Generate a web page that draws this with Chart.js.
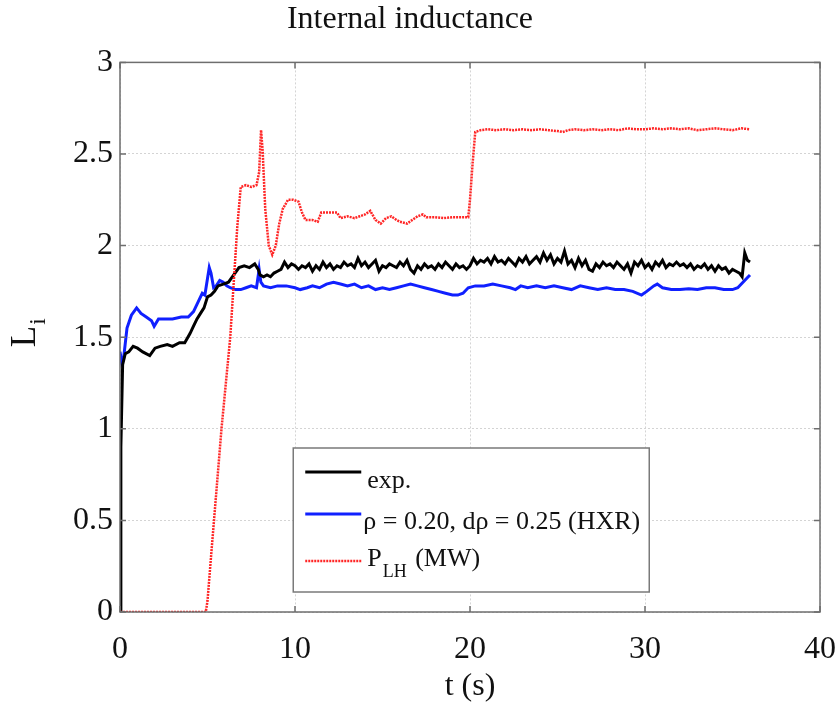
<!DOCTYPE html>
<html>
<head>
<meta charset="utf-8">
<script src="https://cdn.jsdelivr.net/npm/chart.js@4.4.1/dist/chart.umd.min.js"></script>
<style>
  html, body { margin: 0; padding: 0; background: #fff; }
  #wrap { width: 837px; height: 706px; }
</style>
</head>
<body>
<div id="wrap"><canvas id="chart" width="837" height="706"></canvas></div>
<script>
// experimental internal inductance (black)
const tExp = [0, 0.05, 0.15, 0.3, 0.5, 0.75, 1.0, 1.3, 1.7, 2.0, 2.3, 2.7, 3.0, 3.4, 3.7, 4.0, 4.2, 4.4, 4.6, 4.8,
  5.0, 5.2, 5.4, 5.6, 5.9, 6.2, 6.5, 6.8, 7.1, 7.4, 7.7, 7.9,
  8.0, 8.2, 8.4, 8.6, 8.8, 9.0, 9.2, 9.4, 9.6, 9.8, 10.0, 10.2, 10.4, 10.6, 10.8, 11.0, 11.2, 11.4, 11.6, 11.8,
  12.0, 12.2, 12.4, 12.6, 12.8, 13.0, 13.2, 13.4, 13.6, 13.8, 14.0, 14.2, 14.4, 14.6, 14.8, 15.0, 15.2, 15.4, 15.6, 15.8,
  16.0, 16.2, 16.4, 16.6, 16.8, 17.0, 17.2, 17.4, 17.6, 17.8, 18.0, 18.2, 18.4, 18.6, 18.8, 19.0, 19.2, 19.4, 19.6, 19.8,
  20.0, 20.2, 20.4, 20.6, 20.8, 21.0, 21.2, 21.4, 21.6, 21.8, 22.0, 22.2, 22.4, 22.6, 22.8, 23.0, 23.2, 23.4, 23.6, 23.8,
  24.0, 24.2, 24.4, 24.6, 24.8, 25.0, 25.2, 25.4, 25.6, 25.8, 26.0, 26.2, 26.4, 26.6, 26.8, 27.0, 27.2, 27.4, 27.6, 27.8,
  28.0, 28.2, 28.4, 28.6, 28.8, 29.0, 29.2, 29.4, 29.6, 29.8, 30.0, 30.2, 30.4, 30.6, 30.8, 31.0, 31.2, 31.4, 31.6, 31.8,
  32.0, 32.2, 32.4, 32.6, 32.8, 33.0, 33.2, 33.4, 33.6, 33.8, 34.0, 34.2, 34.4, 34.6, 34.8, 35.0, 35.2, 35.4, 35.55, 35.7, 35.85, 36.0];
const liExp = [0, 0.9, 1.35, 1.41, 1.42, 1.45, 1.44, 1.42, 1.40, 1.44, 1.45, 1.46, 1.45, 1.47, 1.47, 1.52, 1.56, 1.60, 1.63, 1.66,
  1.72, 1.73, 1.75, 1.78, 1.79, 1.80, 1.84, 1.88, 1.89, 1.88, 1.90, 1.87,
  1.84, 1.83, 1.84, 1.83, 1.85, 1.86, 1.87, 1.91, 1.88, 1.90, 1.89, 1.87, 1.89, 1.88, 1.90, 1.86, 1.89, 1.87, 1.91, 1.88,
  1.90, 1.87, 1.89, 1.88, 1.91, 1.89, 1.90, 1.88, 1.93, 1.89, 1.91, 1.88, 1.90, 1.92, 1.86, 1.89, 1.88, 1.90, 1.89, 1.88,
  1.91, 1.89, 1.92, 1.87, 1.85, 1.89, 1.87, 1.90, 1.88, 1.89, 1.87, 1.90, 1.88, 1.91, 1.89, 1.87, 1.90, 1.88, 1.89, 1.87,
  1.89, 1.93, 1.90, 1.92, 1.91, 1.93, 1.90, 1.94, 1.91, 1.92, 1.90, 1.93, 1.91, 1.89, 1.93, 1.91, 1.94, 1.90, 1.92, 1.94,
  1.91, 1.96, 1.92, 1.95, 1.90, 1.93, 1.91, 1.97, 1.90, 1.92, 1.88, 1.93, 1.89, 1.92, 1.87, 1.86, 1.90, 1.88, 1.91, 1.89,
  1.90, 1.88, 1.91, 1.89, 1.87, 1.90, 1.85, 1.91, 1.89, 1.92, 1.88, 1.90, 1.87, 1.91, 1.89, 1.92, 1.88, 1.90, 1.89, 1.91,
  1.89, 1.90, 1.88, 1.90, 1.87, 1.89, 1.88, 1.90, 1.87, 1.89, 1.86, 1.89, 1.87, 1.88, 1.85, 1.87, 1.86, 1.85, 1.83, 1.96, 1.92, 1.91];

// simulation rho = 0.20, drho = 0.25 (blue)
const tSim = [0, 0.1, 0.2, 0.4, 0.65, 0.95, 1.2, 1.5, 1.8, 1.95, 2.2, 2.6, 3.0, 3.5, 3.9, 4.2, 4.5, 4.7, 4.85, 5.0, 5.1, 5.2,
  5.35, 5.5, 5.7, 5.9, 6.1, 6.3, 6.6, 6.9, 7.2, 7.5, 7.8, 7.95, 8.05, 8.2, 8.6, 9.0, 9.5, 10.0, 10.3, 10.7, 11.0, 11.4,
  11.8, 12.2, 12.6, 13.0, 13.4, 13.8, 14.2, 14.6, 15.0, 15.4, 15.8, 16.2, 16.6, 17.0, 17.4, 17.8, 18.2, 18.6, 19.0, 19.3,
  19.6, 19.9, 20.3, 20.8, 21.3, 21.8, 22.3, 22.6, 22.9, 23.3, 23.8, 24.3, 24.8, 25.3, 25.8, 26.3, 26.8, 27.3, 27.8, 28.3,
  28.8, 29.3, 29.8, 30.1, 30.5, 30.7, 31.0, 31.5, 32.0, 32.5, 33.0, 33.5, 34.0, 34.5, 35.0, 35.3, 35.6, 35.9, 36.0];
const liSim = [1.42, 1.36, 1.38, 1.55, 1.62, 1.66, 1.63, 1.61, 1.59, 1.56, 1.60, 1.60, 1.60, 1.61, 1.61, 1.64, 1.70, 1.74, 1.73, 1.82, 1.88, 1.85,
  1.77, 1.78, 1.81, 1.80, 1.78, 1.77, 1.76, 1.76, 1.77, 1.78, 1.77, 1.87, 1.80, 1.78, 1.77, 1.78, 1.78, 1.77, 1.76, 1.77, 1.78, 1.77,
  1.79, 1.80, 1.79, 1.78, 1.79, 1.77, 1.78, 1.76, 1.77, 1.76, 1.77, 1.78, 1.79, 1.78, 1.77, 1.76, 1.75, 1.74, 1.73, 1.73,
  1.74, 1.77, 1.78, 1.78, 1.79, 1.78, 1.77, 1.76, 1.78, 1.77, 1.78, 1.77, 1.78, 1.77, 1.76, 1.78, 1.77, 1.76, 1.77, 1.76,
  1.76, 1.75, 1.73, 1.75, 1.78, 1.79, 1.77, 1.76, 1.76, 1.765, 1.76, 1.77, 1.77, 1.76, 1.76, 1.77, 1.80, 1.83, 1.84];

// lower hybrid power P_LH in MW (red)
const tPlh = [0, 4.9, 5.0, 5.2, 5.5, 5.8, 6.1, 6.3, 6.5, 6.7, 6.9, 7.2, 7.5, 7.8, 7.95, 8.06, 8.15, 8.3, 8.5, 8.7, 8.9,
  9.1, 9.3, 9.6, 9.9, 10.2, 10.4, 10.6, 11.0, 11.3, 11.5, 12.0, 12.4, 12.6, 13.0, 13.4, 13.7, 14.0, 14.3, 14.6, 14.9,
  15.2, 15.5, 15.8, 16.0, 16.4, 16.7, 17.0, 17.3, 17.5, 18.0, 18.5, 19.0, 19.5, 19.9, 20.0, 20.15, 20.3, 20.6, 21.0,
  21.5, 22.0, 22.5, 23.0, 23.5, 24.0, 24.5, 25.0, 25.3, 25.6, 26.0, 26.5, 27.0, 27.5, 28.0, 28.5, 29.0, 29.5, 30.0,
  30.5, 31.0, 31.5, 32.0, 32.5, 33.0, 33.5, 34.0, 34.5, 35.0, 35.5, 36.0];
const pPlh = [0, 0, 0.06, 0.3, 0.65, 1.0, 1.3, 1.5, 1.8, 2.1, 2.32, 2.33, 2.32, 2.33, 2.40, 2.63, 2.52, 2.2, 2.0, 1.95, 2.0,
  2.12, 2.20, 2.25, 2.25, 2.24, 2.18, 2.14, 2.14, 2.13, 2.18, 2.18, 2.18, 2.15, 2.16, 2.15, 2.16, 2.17, 2.19, 2.14, 2.12,
  2.15, 2.16, 2.14, 2.13, 2.12, 2.14, 2.16, 2.17, 2.155, 2.155, 2.15, 2.155, 2.155, 2.155, 2.25, 2.45, 2.62, 2.63, 2.635,
  2.63, 2.635, 2.63, 2.635, 2.63, 2.635, 2.63, 2.625, 2.62, 2.63, 2.635, 2.63, 2.635, 2.63, 2.635, 2.63, 2.64, 2.635, 2.635,
  2.64, 2.635, 2.64, 2.635, 2.64, 2.63, 2.635, 2.64, 2.635, 2.63, 2.64, 2.635];

const xTicks = [0, 10, 20, 30, 40];
const yTicks = [0, 0.5, 1, 1.5, 2, 2.5, 3];
const legendLabels = ["exp.", "\u03c1 = 0.20, d\u03c1 = 0.25 (HXR)", "P|LH| (MW)"];

const SERIF = "'Liberation Serif', 'Times New Roman', serif";
const RED = "#ff2626";
const BLUE = "#1020ff";

const toPoints = (xs, ys) => xs.map((x, i) => ({ x: x, y: ys[i] }));

// frame, inward ticks, y label and boxed legend, drawn on top like matlab
const decor = {
  id: "decor",
  afterDatasetsDraw(chart) {
    const { ctx, chartArea: a, scales } = chart;
    const xs = scales.x, ys = scales.y;
    ctx.save();
    ctx.strokeStyle = "#6e6e6e";
    ctx.lineWidth = 1.5;
    ctx.strokeRect(a.left, a.top, a.right - a.left, a.bottom - a.top);
    ctx.beginPath();
    xTicks.forEach((v) => {
      const px = xs.getPixelForValue(v);
      ctx.moveTo(px, a.bottom); ctx.lineTo(px, a.bottom - 6);
      ctx.moveTo(px, a.top); ctx.lineTo(px, a.top + 6);
    });
    yTicks.forEach((v) => {
      const py = ys.getPixelForValue(v);
      ctx.moveTo(a.left, py); ctx.lineTo(a.left + 6, py);
      ctx.moveTo(a.right, py); ctx.lineTo(a.right - 6, py);
    });
    ctx.stroke();

    // y axis label L_i
    ctx.fillStyle = "#111";
    ctx.translate(35, (a.top + a.bottom) / 2 + 10);
    ctx.rotate(-Math.PI / 2);
    ctx.textBaseline = "alphabetic";
    ctx.textAlign = "left";
    ctx.font = "35px " + SERIF;
    ctx.fillText("L", 0, 0);
    const lw = ctx.measureText("L").width;
    ctx.font = "23px " + SERIF;
    ctx.fillText("i", lw + 1, 10);
    ctx.restore();

    // legend box
    const bx = xs.getPixelForValue(9.9), by = 448, bw = 356, bh = 144;
    ctx.save();
    ctx.fillStyle = "#fff";
    ctx.fillRect(bx, by, bw, bh);
    ctx.strokeStyle = "#7a7a7a";
    ctx.lineWidth = 1.5;
    ctx.strokeRect(bx, by, bw, bh);
    const ds = chart.data.datasets;
    const order = [1, 2, 0];
    const lineY = [472, 514, 561];
    const baseY = [488, 529, 566];
    ctx.textAlign = "left";
    ctx.textBaseline = "alphabetic";
    ctx.fillStyle = "#111";
    order.forEach((di, k) => {
      const d = ds[di];
      ctx.strokeStyle = d.borderColor;
      ctx.lineWidth = d.borderWidth;
      ctx.setLineDash(d.borderDash || []);
      ctx.beginPath();
      ctx.moveTo(bx + 12, lineY[k]);
      ctx.lineTo(bx + 68, lineY[k]);
      ctx.stroke();
      ctx.setLineDash([]);
      const label = legendLabels[k];
      const tx = bx + (k === 1 ? 70 : 74);
      if (label.indexOf("|") >= 0) {
        const parts = label.split("|");
        ctx.font = "26px " + SERIF;
        ctx.fillText(parts[0], tx, baseY[k]);
        let w = ctx.measureText(parts[0]).width;
        ctx.font = "18px " + SERIF;
        ctx.fillText(parts[1], tx + w + 1, baseY[k] + 11);
        w += ctx.measureText(parts[1]).width + 3;
        ctx.font = "26px " + SERIF;
        ctx.fillText(parts[2], tx + w, baseY[k]);
      } else {
        ctx.font = "26px " + SERIF;
        ctx.fillText(label, tx, baseY[k]);
      }
    });
    ctx.restore();
  }
};

new Chart(document.getElementById("chart"), {
  type: "line",
  data: {
    datasets: [
      {
        label: "P_LH (MW)",
        data: toPoints(tPlh, pPlh),
        borderColor: RED,
        borderWidth: 2.5,
        borderDash: [2, 1],
        pointRadius: 0,
        order: 0
      },
      {
        label: "exp.",
        data: toPoints(tExp, liExp),
        borderColor: "#000",
        borderWidth: 3,
        pointRadius: 0,
        order: 1
      },
      {
        label: "rho = 0.20, drho = 0.25 (HXR)",
        data: toPoints(tSim, liSim),
        borderColor: BLUE,
        borderWidth: 3,
        pointRadius: 0,
        order: 2
      }
    ]
  },
  options: {
    responsive: false,
    animation: false,
    layout: { padding: { left: 0, right: 17, top: 0, bottom: 0 } },
    elements: { line: { tension: 0 } },
    plugins: {
      legend: { display: false },
      tooltip: { enabled: false },
      title: {
        display: true,
        text: "Internal inductance",
        color: "#111",
        font: { family: SERIF, size: 32, weight: "normal" },
        padding: { top: 0, bottom: 24 }
      }
    },
    scales: {
      x: {
        type: "linear",
        min: 0,
        max: 40,
        afterBuildTicks: (s) => { s.ticks = xTicks.map((v) => ({ value: v })); },
        afterFit: (s) => { s.height = 94; s.paddingLeft = 0; s.paddingRight = 0; },
        grid: { color: "#d4d4d4", lineWidth: 1, drawTicks: false },
        border: { display: false, dash: [2, 2] },
        ticks: { color: "#111", padding: 18, font: { family: SERIF, size: 32 }, callback: (v) => String(v) },
        title: {
          display: true,
          text: "t (s)",
          color: "#111",
          font: { family: SERIF, size: 32 },
          padding: { top: 0, bottom: 0 }
        }
      },
      y: {
        type: "linear",
        min: 0,
        max: 3,
        afterBuildTicks: (s) => { s.ticks = yTicks.map((v) => ({ value: v })); },
        afterFit: (s) => { s.width = 120; },
        grid: { color: "#d4d4d4", lineWidth: 1, drawTicks: false },
        border: { display: false, dash: [2, 2] },
        ticks: { color: "#111", padding: 7, font: { family: SERIF, size: 32 }, callback: (v) => String(v) }
      }
    }
  },
  plugins: [decor]
});
</script>
</body>
</html>
